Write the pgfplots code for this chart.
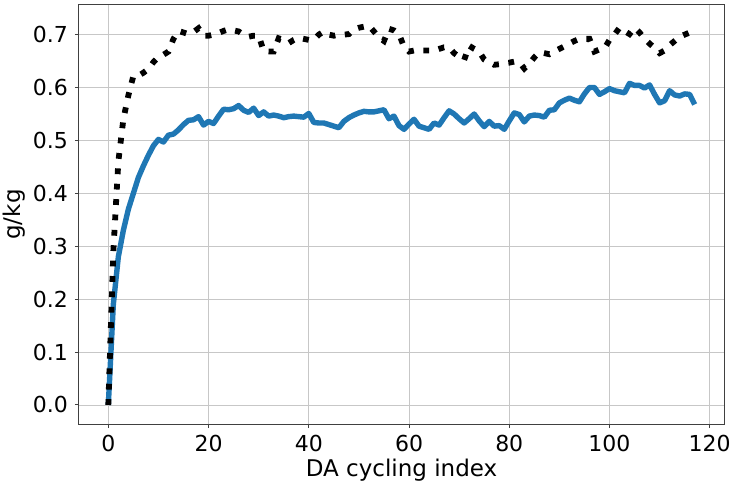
\documentclass[border=0pt]{standalone}
\usepackage{pgfplots}
\pgfplotsset{compat=1.18}
\usepackage{pgfplotstable}
\usepackage{fontspec}
\setmainfont{DejaVu Sans}
\definecolor{mplblue}{HTML}{1F77B4}

\pgfplotstableread{
i blue black
0 0.000 0.000
1 0.190 0.290
2 0.280 0.460
3 0.330 0.540
4 0.370 0.585
5 0.400 0.622
6 0.430 0.622
7 0.452 0.628
8 0.472 0.635
9 0.490 0.648
10 0.502 0.658
11 0.497 0.662
12 0.510 0.668
13 0.512 0.692
14 0.520 0.707
15 0.530 0.704
16 0.538 0.701
17 0.539 0.705
18 0.545 0.712
19 0.529 0.698
20 0.536 0.698
21 0.532 0.700
22 0.546 0.703
23 0.559 0.707
24 0.558 0.710
25 0.560 0.708
26 0.566 0.706
27 0.557 0.700
28 0.553 0.696
29 0.561 0.698
30 0.547 0.698
31 0.554 0.669
32 0.546 0.668
33 0.548 0.668
34 0.546 0.693
35 0.543 0.690
36 0.545 0.684
37 0.546 0.690
38 0.545 0.694
39 0.544 0.692
40 0.551 0.690
41 0.534 0.690
42 0.533 0.700
43 0.533 0.706
44 0.530 0.700
45 0.527 0.698
46 0.524 0.700
47 0.536 0.700
48 0.543 0.701
49 0.548 0.710
50 0.552 0.713
51 0.555 0.715
52 0.554 0.717
53 0.554 0.706
54 0.556 0.695
55 0.558 0.688
56 0.541 0.711
57 0.546 0.708
58 0.528 0.701
59 0.521 0.677
60 0.531 0.668
61 0.540 0.670
62 0.527 0.670
63 0.524 0.670
64 0.521 0.670
65 0.533 0.670
66 0.529 0.673
67 0.543 0.676
68 0.556 0.676
69 0.550 0.665
70 0.541 0.658
71 0.533 0.652
72 0.541 0.679
73 0.550 0.673
74 0.537 0.668
75 0.526 0.653
76 0.536 0.648
77 0.527 0.643
78 0.528 0.644
79 0.521 0.646
80 0.537 0.647
81 0.552 0.649
82 0.549 0.648
83 0.535 0.636
84 0.546 0.645
85 0.548 0.657
86 0.547 0.667
87 0.544 0.665
88 0.557 0.663
89 0.558 0.668
90 0.571 0.673
91 0.576 0.678
92 0.580 0.683
93 0.576 0.688
94 0.573 0.692
95 0.588 0.692
96 0.600 0.692
97 0.600 0.668
98 0.587 0.672
99 0.592 0.674
100 0.598 0.690
101 0.594 0.700
102 0.592 0.713
103 0.590 0.707
104 0.608 0.701
105 0.604 0.713
106 0.604 0.704
107 0.599 0.692
108 0.605 0.683
109 0.587 0.675
110 0.571 0.665
111 0.575 0.670
112 0.594 0.680
113 0.586 0.688
114 0.584 0.696
115 0.588 0.700
116 0.587 0.704
117 0.568 0.708
}\datatable

\begin{document}
\begin{tikzpicture}
\begin{axis}[
  name=ax,
  scale only axis,
  width=322.5pt, height=209.5pt,
  xmin=-5.85, xmax=122.85,
  ymin=-0.036, ymax=0.756,
  xtick={0,20,40,60,80,100,120},
  ytick={0,0.1,0.2,0.3,0.4,0.5,0.6,0.7},
  yticklabel style={/pgf/number format/.cd, fixed, fixed zerofill, precision=1},
  /pgf/number format/assume math mode=true,
  tick label style={font=\fontsize{11}{13}\selectfont},
  label style={font=\fontsize{11.5}{13}\selectfont},
  xlabel={DA cycling index},
  ylabel={g/kg},
  xlabel style={yshift=3pt},
  ylabel style={yshift=-3pt},
  grid=major,
  major grid style={line width=0.4pt, draw=black!22},
  axis line style={draw=black!75, line width=0.5pt},
  tick align=outside,
  major tick length=2pt,
  tick style={draw=black!75, line width=0.5pt},
  xtick pos=bottom, ytick pos=left,
  clip=true,
]
\addplot[draw=mplblue, line width=2.7pt, line join=round] table[x=i, y=blue] {\datatable};
\addplot[draw=black, line width=2.9pt, line cap=butt, dash pattern=on 2.9pt off 4.8pt] table[x=i, y=black] {\datatable};
\end{axis}
\pgfresetboundingbox
\path ([xshift=-39.5pt,yshift=-28pt]ax.south west) rectangle ([xshift=3pt,yshift=2.5pt]ax.north east);
\end{tikzpicture}
\end{document}
